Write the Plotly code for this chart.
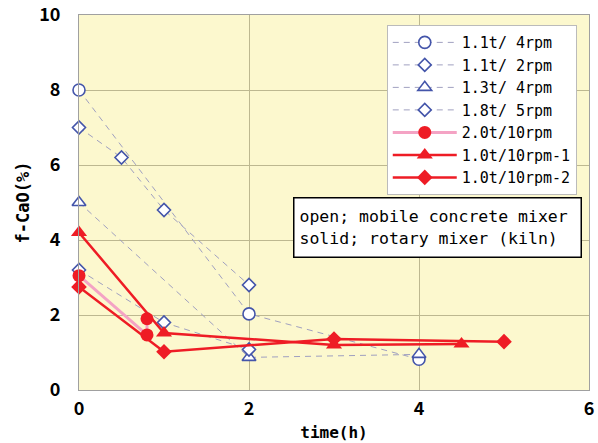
import plotly.graph_objects as go

# ---- data ----
s1_name = "1.1t/ 4rpm"
s1_x = [0, 2, 4]
s1_y = [8.0, 2.03, 0.82]

s2_name = "1.1t/ 2rpm"
s2_x = [0, 0.5, 1, 2]
s2_y = [7.0, 6.2, 4.8, 2.8]

s3_name = "1.3t/ 4rpm"
s3_x = [0, 2, 4]
s3_y = [5.0, 0.87, 0.95]

s4_name = "1.8t/ 5rpm"
s4_x = [0, 1, 2]
s4_y = [3.2, 1.8, 1.08]

s5_name = "2.0t/10rpm"
s5_x = [0, 0.8, 0.8]
s5_y = [3.05, 1.47, 1.9]

s6_name = "1.0t/10rpm-1"
s6_x = [0, 1, 3, 4.5]
s6_y = [4.2, 1.52, 1.2, 1.23]

s7_name = "1.0t/10rpm-2"
s7_x = [0, 1, 3, 5]
s7_y = [2.75, 1.02, 1.36, 1.29]

x_ticks = [0, 2, 4, 6]
y_ticks = [0, 2, 4, 6, 8, 10]
note_lines = ["open; mobile concrete mixer", "solid; rotary mixer (kiln)"]

BLUE = "#4455AA"
DASH = "#A0A0C0"
RED = "#EE1C25"
PINK = "#F4A3C4"
MONO = "DejaVu Sans Mono"
TICKF = "Noto Sans CJK JP"

fig = go.Figure()

def open_trace(x, y, name, symbol, size):
    return go.Scatter(
        x=x, y=y, name=name, mode="lines+markers", cliponaxis=False,
        line=dict(color=DASH, width=1, dash="6px,5px"),
        marker=dict(symbol=symbol, size=size, color="white",
                    line=dict(color=BLUE, width=1.6)),
    )

fig.add_trace(open_trace(s1_x, s1_y, s1_name, "circle", 12))
fig.add_trace(open_trace(s2_x, s2_y, s2_name, "diamond", 10))
fig.add_trace(open_trace(s3_x, s3_y, s3_name, "triangle-up", 12))
fig.add_trace(open_trace(s4_x, s4_y, s4_name, "diamond", 10))

fig.add_trace(go.Scatter(
    x=s5_x, y=s5_y, name=s5_name, mode="lines+markers", cliponaxis=False,
    line=dict(color=PINK, width=3),
    marker=dict(symbol="circle", size=13, color=RED, line=dict(width=0)),
))
fig.add_trace(go.Scatter(
    x=s6_x, y=s6_y, name=s6_name, mode="lines+markers", cliponaxis=False,
    line=dict(color=RED, width=2.5),
    marker=dict(symbol="triangle-up", size=14, color=RED, line=dict(width=0)),
))
fig.add_trace(go.Scatter(
    x=s7_x, y=s7_y, name=s7_name, mode="lines+markers", cliponaxis=False,
    line=dict(color=RED, width=2.5),
    marker=dict(symbol="diamond", size=12, color=RED, line=dict(width=0)),
))

fig.add_annotation(
    xref="paper", yref="paper", x=0.9865, y=0.5138,
    xanchor="right", yanchor="top", showarrow=False, align="left",
    text="<br>".join(note_lines),
    width=276, height=48,
    font=dict(family=MONO, size=16.5, color="black"),
    bgcolor="white", bordercolor="black", borderwidth=1.5, borderpad=5,
)

axis_common = dict(
    showgrid=True, gridcolor="#BDB890", gridwidth=1,
    showline=True, linecolor="#A0A0A0", linewidth=1, mirror=True,
    zeroline=False, ticks="", automargin=False, ticklabeloverflow="allow",
    tickfont=dict(family=TICKF, size=18, color="black", weight="bold"),
)

fig.update_xaxes(range=[0, 6], tickvals=x_ticks, ticktext=[str(v) for v in x_ticks],
                 ticklabelstandoff=2,
                 title=dict(text="time(h)", standoff=8,
                            font=dict(family=MONO, size=16, color="black", weight="bold")),
                 **axis_common)
fig.update_yaxes(range=[0, 10], tickvals=y_ticks, ticktext=[str(v) for v in y_ticks],
                 ticklabelstandoff=14,
                 title=dict(text="f-CaO(%)", standoff=5,
                            font=dict(family=MONO, size=17, color="black", weight="bold")),
                 **axis_common)

fig.update_layout(
    width=598, height=443,
    margin=dict(l=79, r=9, t=15, b=53, autoexpand=False),
    paper_bgcolor="white", plot_bgcolor="#FCF8CE",
    showlegend=True,
    legend=dict(
        x=0.976, y=0.973, xanchor="right", yanchor="top",
        bgcolor="white", bordercolor="#BBBBBB", borderwidth=1,
        font=dict(family=MONO, size=15, color="black"),
        itemwidth=64, tracegroupgap=0,
    ),
)

fig.write_html("out.html", config={"displayModeBar": False},
               post_script="document.body.style.margin='0';document.body.style.overflow='hidden';")
